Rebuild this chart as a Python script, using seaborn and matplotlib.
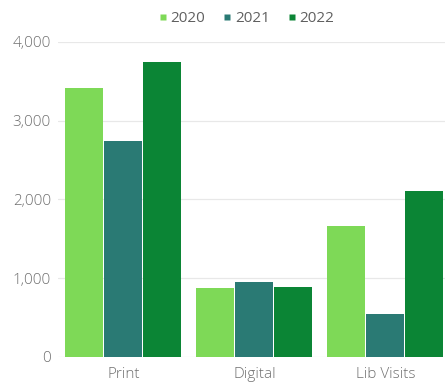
import matplotlib
matplotlib.use("Agg")
import matplotlib.pyplot as plt
import seaborn as sns
import pandas as pd
from matplotlib.ticker import FuncFormatter
from matplotlib.lines import Line2D

categories = ["Print", "Digital", "Lib Visits"]
years = ["2020", "2021", "2022"]
values_2020 = [3410, 870, 1660]
values_2021 = [2740, 950, 550]
values_2022 = [3750, 890, 2110]
yticks = [0, 1000, 2000, 3000, 4000]
colors = ["#7ED957", "#2A7A74", "#0B8535"]

rows = []
for yr, vals in zip(years, [values_2020, values_2021, values_2022]):
    for c, v in zip(categories, vals):
        rows.append({"category": c, "year": yr, "value": v})
df = pd.DataFrame(rows)

sns.set_theme(style="white")
plt.rcParams['font.family'] = ['Open Sans', 'DejaVu Sans']

fig = plt.figure(figsize=(4.45, 3.85), dpi=100)
ax = fig.add_axes([58/445, 1 - 357/385, (451-58)/445, (357-42)/385])

sns.barplot(data=df, x="category", y="value", hue="year", palette=colors,
            order=categories, hue_order=years, width=0.9, ax=ax,
            saturation=1, legend=False, edgecolor="none", linewidth=0)

for p in ax.patches:
    w = p.get_width()
    p.set_width(w * 0.975)

ax.set_ylim(0, 4000)
ax.set_xlim(-0.5, 2.5)
ax.set_yticks(yticks)
ax.yaxis.set_major_formatter(FuncFormatter(lambda v, _: f"{int(v):,}"))
ax.grid(axis="y", color="#e8e8e8", linewidth=0.9)
ax.set_axisbelow(True)
for s in ax.spines.values():
    s.set_visible(False)
ax.set_xlabel("")
ax.set_ylabel("")
ax.tick_params(axis="y", colors="#707070", labelsize=11, pad=5, length=0)
ax.tick_params(axis="x", colors="#707070", labelsize=11, pad=7, length=0)
for t in ax.get_xticklabels() + ax.get_yticklabels():
    t.set_fontweight("light")

handles = [Line2D([0], [0], marker="s", color="none", markerfacecolor=c,
                  markeredgecolor="none", markersize=4.5) for c in colors]
fig.legend(handles, years, loc="center", bbox_to_anchor=(245/445, 1 - 19/385),
           ncol=3, frameon=False, fontsize=11, handletextpad=0.05,
           columnspacing=1.0, handlelength=0.9, labelcolor="#606060")

fig.savefig("out.png", dpi=100)
